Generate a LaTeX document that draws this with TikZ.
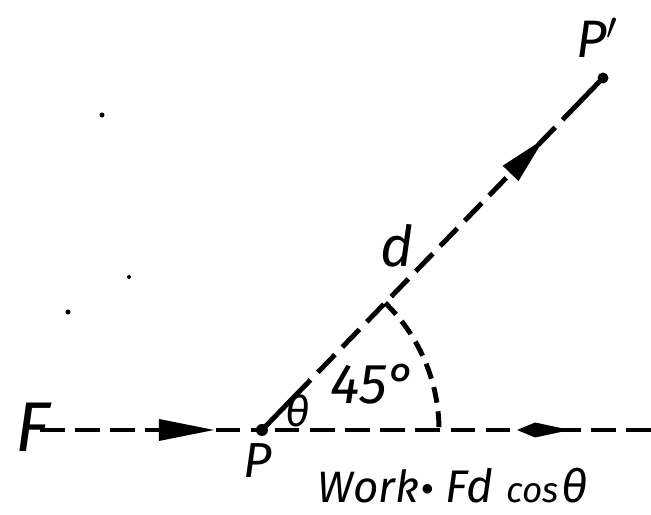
\documentclass[tikz,border=0pt]{standalone}
\usepackage{fontspec}
\setmainfont{Fira Sans}
\usetikzlibrary{calc,decorations.markings}
\begin{document}
\begin{tikzpicture}[x=0.01cm,y=0.01cm,
  ln/.style={line width=1.4pt},
  dsh/.style={ln, dash pattern=on 7pt off 3pt},
  arcdsh/.style={ln, dash pattern=on 4.5pt off 2.5pt},
  lbl/.style={inner sep=0pt, font=\itshape\fontsize{#1}{#1}\selectfont},
  wl/.style={lbl=#1, anchor=base west},
]
\useasboundingbox (0,0) rectangle (651,515);
\coordinate (P) at (262,85);
\coordinate (Pp) at (603,437);
\coordinate (Fs) at (40,85);
\coordinate (Re) at (651,85);
\coordinate (Q) at ($(P)!0.092!(Pp)$);
\coordinate (R) at ($(P)!0.913!(Pp)$);
\coordinate (A) at ($(P)+(45.9:177)$);
% horizontal line, left part (F to P)
\draw[dsh, postaction={decorate}, decoration={markings,
  mark=at position 0.536 with {\fill (0,11) -- (55,0) -- (0,-11) -- cycle;}}] (Fs) -- (P);
% horizontal line, right part
\draw[dsh, postaction={decorate}, decoration={markings,
  mark=at position 0.208 with {\fill (0,0) -- (35,7.5) -- (53,0) -- (35,-7.5) -- cycle;}}] (Re) -- (P);
% displacement
\draw[ln] (P) -- (Q);
\draw[dsh, postaction={decorate}, decoration={markings,
  mark=at position 0.778 with {\fill (0,11) -- (48,0) -- (0,-11) -- cycle;}}] (Q) -- (R);
\draw[ln] (R) -- (Pp);
% angle arc
\draw[arcdsh] (A) arc[start angle=45.9, end angle=0, radius=177];
% points
\fill (P) circle[radius=6];
\fill (Pp) circle[radius=5.5];
% specks
\fill (102,400) circle[radius=2.5];
\fill (129,238) circle[radius=2];
\fill (68,203) circle[radius=2.5];
% labels
\node[lbl=20] (F) at (33,88) {F};
\node[lbl=14] (Plab) at (258,54) {P};
\node[lbl=15] (Pplab) at (598,477) {P$'$};
\node[lbl=12] (th) at (298,104) {θ};
\node[lbl=16] (ang) at (373,131) {45°};
\node[lbl=16] (d) at (397,269) {d};
% formula
\node[wl=12.5] (Wk) at (317,12) {Work};
\node[anchor=base, inner sep=0pt, font=\bfseries\fontsize{15}{15}\selectfont] (dot) at (428,9) {·};
\node[wl=13] (Fd) at (445,12) {Fd};
\node[wl=10] (cs) at (506,12) {cos};
\node[wl=13] (th2) at (561,12) {θ};
\end{tikzpicture}
\end{document}
